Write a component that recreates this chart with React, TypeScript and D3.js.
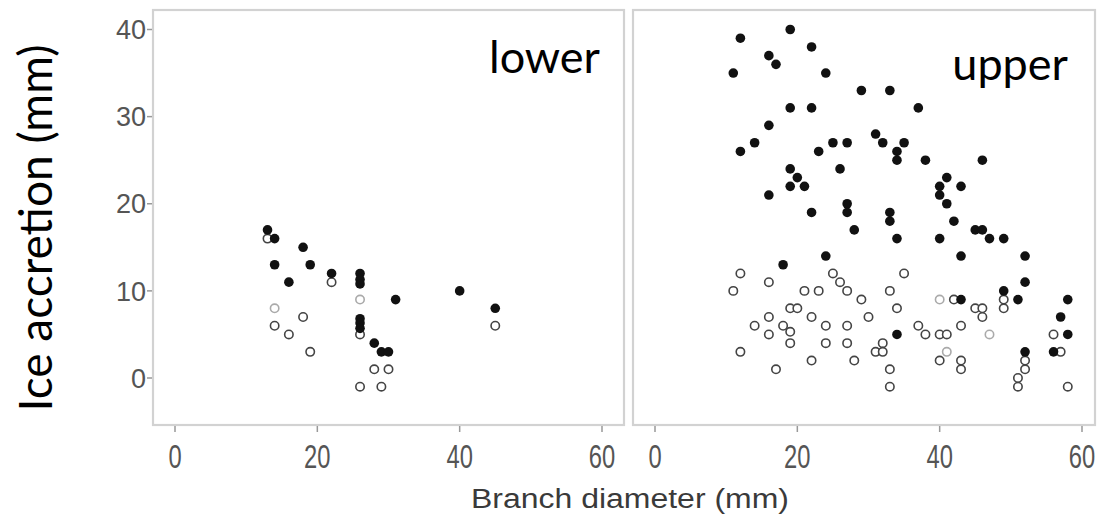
import React from "react";
import * as d3 from "d3";

// branch diameter (mm), ice accretion (mm)
const lowerFilled: [number, number][] = [
  [13, 17], [14, 16], [18, 15], [14, 13], [19, 13], [16, 11], [22, 12],
  [26, 12], [26, 11.3], [26, 10.8], [31, 9], [40, 10], [45, 8],
  [26, 6.8], [26, 6.3], [26, 5.7], [28, 4], [29, 3], [30, 3],
];
const lowerOpen: [number, number][] = [
  [13, 16], [22, 11], [45, 6], [26, 5], [28, 1], [30, 1], [26, -1], [29, -1],
  [18, 7], [14, 6], [16, 5], [19, 3],
];
const lowerPale: [number, number][] = [[14, 8], [26, 9]];

const upperFilled: [number, number][] = [
  [12, 39], [19, 40], [22, 38], [16, 37], [17, 36], [11, 35], [24, 35],
  [29, 33], [33, 33], [19, 31], [22, 31], [37, 31], [16, 29], [14, 27],
  [25, 27], [27, 27], [31, 28], [32, 27], [35, 27], [12, 26], [23, 26],
  [34, 26], [34, 25], [38, 25], [46, 25], [26, 24], [19, 24], [20, 23],
  [41, 23], [19, 22], [21, 22], [40, 22], [43, 22], [40, 21], [16, 21],
  [41, 20], [22, 19], [27, 20], [27, 19], [33, 19], [33, 18], [42, 18],
  [28, 17], [45, 17], [46, 17], [34, 16], [40, 16], [47, 16], [49, 16],
  [24, 14], [43, 14], [52, 14], [18, 13], [52, 11], [49, 10], [51, 9],
  [43, 9], [58, 9], [57, 7], [58, 5], [34, 5], [52, 3], [56, 3],
];
const upperOpen: [number, number][] = [
  [12, 12], [11, 10], [16, 11], [21, 10], [23, 10], [25, 12], [26, 11],
  [27, 10], [29, 9], [33, 10], [35, 12], [19, 8], [20, 8], [30, 7],
  [16, 7], [22, 7], [34, 8], [14, 6], [18, 6], [19, 5.3], [24, 6], [27, 6],
  [16, 5], [19, 4], [24, 4], [27, 4], [32, 4], [31, 3], [32, 3], [12, 3],
  [22, 2], [28, 2], [17, 1], [33, 1], [33, -1], [37, 6], [38, 5], [40, 5],
  [41, 5], [42, 9], [43, 6], [45, 8], [46, 8], [46, 7], [49, 9], [49, 8],
  [40, 2], [43, 2], [43, 1], [52, 2], [52, 1], [51, 0], [51, -1], [56, 5],
  [57, 3], [58, -1],
];
const upperPale: [number, number][] = [[40, 9], [47, 5], [41, 3]];

const xTicks = [0, 20, 40, 60];
const yTicks = [0, 10, 20, 30, 40];

const panels = [
  { label: "lower", filled: lowerFilled, open: lowerOpen, pale: lowerPale, left: 153, right: 624, labelX: 600, labelY: 73 },
  { label: "upper", filled: upperFilled, open: upperOpen, pale: upperPale, left: 633, right: 1095, labelX: 1068, labelY: 80 },
];

const tickFont = "'Liberation Sans', Arial, sans-serif";
const labelFont = "Lato, 'Open Sans', sans-serif";

export default function App() {
  const width = 1101;
  const height = 516;
  const top = 10;
  const bottom = 425;
  const y = d3.scaleLinear().domain([0, 40]).range([378, 29.5]);

  return (
    <svg width={width} height={height} style={{ position: "absolute", left: 0, top: 0, background: "#fff" }}>
      {panels.map((p, pi) => {
        const x = d3.scaleLinear().domain([0, 60]).range([p.left + 22, p.left + 22 + 427]);
        return (
          <g key={p.label}>
            <rect x={p.left} y={top} width={p.right - p.left} height={bottom - top}
              fill="#fff" stroke="#d2d2d2" strokeWidth={2.2} />
            {xTicks.map((t) => (
              <g key={t}>
                <line x1={x(t)} x2={x(t)} y1={bottom + 1} y2={bottom + 7} stroke="#999" strokeWidth={1.5} />
                <text transform={`translate(${x(t)},468) scale(0.88,1.2)`} textAnchor="middle" fontSize={27}
                  fill="#555" fontFamily={tickFont}>{t}</text>
              </g>
            ))}
            {pi === 0 && yTicks.map((t) => (
              <g key={t}>
                <line x1={p.left - 6} x2={p.left - 1} y1={y(t)} y2={y(t)} stroke="#999" strokeWidth={1.5} />
                <text x={p.left - 7} y={y(t)} dy="0.36em" textAnchor="end" fontSize={27} fill="#555"
                  fontFamily={tickFont}>{t}</text>
              </g>
            ))}
            {p.pale.map((d, i) => (
              <circle key={"p" + i} cx={x(d[0])} cy={y(d[1])} r={4.2} fill="none" stroke="#aaa" strokeWidth={1.6} />
            ))}
            {p.open.map((d, i) => (
              <circle key={"o" + i} cx={x(d[0])} cy={y(d[1])} r={4.2} fill="#fff" stroke="#444" strokeWidth={1.6} />
            ))}
            {p.filled.map((d, i) => (
              <circle key={"f" + i} cx={x(d[0])} cy={y(d[1])} r={4.8} fill="#111" />
            ))}
            <text x={p.labelX} y={p.labelY} textAnchor="end" fontSize={45} fill="#000" fontFamily={labelFont}>{p.label}</text>
          </g>
        );
      })}
      <text x={630} y={508} textAnchor="middle" fontSize={27} fill="#3a3a3a" fontFamily={tickFont}
        textLength={318} lengthAdjust="spacingAndGlyphs">Branch diameter (mm)</text>
      <text transform="translate(52,228) rotate(-90)" textAnchor="middle" fontSize={46} fill="#000"
        fontFamily={labelFont}>Ice accretion (mm)</text>
    </svg>
  );
}
